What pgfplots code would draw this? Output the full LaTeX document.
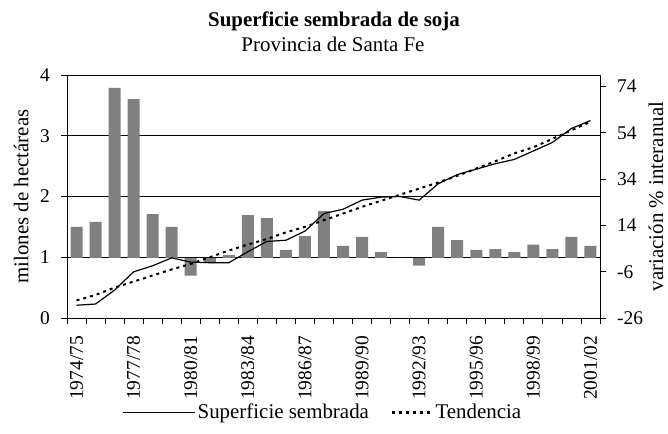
\documentclass[border=0pt]{standalone}
\usepackage{fontspec}
\setmainfont{Liberation Serif}
\usepackage{pgfplots}
\pgfplotsset{compat=1.18}
\definecolor{bargray}{RGB}{128,128,128}

\pgfplotstableread{
i sup tend var
1 0.21 0.29 13.4
2 0.23 0.38 15.5
3 0.46 0.50 73.4
4 0.76 0.60 68.6
5 0.86 0.70 18.9
6 0.99 0.80 13.4
7 0.92 0.89 -7.7
8 0.91 1.00 -1.7
9 0.91 1.11 1.2
10 1.09 1.21 18.5
11 1.26 1.30 17.2
12 1.28 1.41 3.4
13 1.43 1.50 9.4
14 1.72 1.61 20.2
15 1.79 1.72 5.2
16 1.94 1.83 9.1
17 1.99 1.93 2.5
18 2.00 2.03 0.0
19 1.94 2.13 -3.4
20 2.21 2.23 13.4
21 2.36 2.34 7.7
22 2.45 2.46 3.4
23 2.54 2.58 3.8
24 2.61 2.71 2.5
25 2.75 2.81 5.7
26 2.89 2.95 3.8
27 3.12 3.09 9.1
28 3.25 3.23 5.2
}\datatable

\pgfplotsset{
  base/.style={
    scale only axis, width=533bp, height=243bp,
    xmin=0.5, xmax=28.5,
    at={(0bp,0bp)}, anchor=south west,
    axis line style={black, line width=0.8bp},
    tick style={black, line width=0.8bp},
    tick align=outside, major tick length=6bp,
    tick label style={font=\fontsize{19.5}{23}\selectfont},
  }
}

\begin{document}
\fontsize{21}{25}\selectfont
\begin{tikzpicture}
\useasboundingbox (-67bp,-116bp) rectangle (601bp,318bp);

% background axis: left scale, grid, x ticks
\begin{axis}[base,
  ymin=0, ymax=4,
  ytick={0,1,2,3,4}, yticklabels={0,1,2,3,4},
  ytick pos=left, xtick pos=bottom,
  ymajorgrids, grid style={black, line width=0.8bp},
  xtick={0.5,1.5,...,28.5}, xticklabels={},
  extra x ticks={1,4,7,10,13,16,19,22,25,28},
  extra x tick labels={1974/75,1977/78,1980/81,1983/84,1986/87,1989/90,1992/93,1995/96,1998/99,2001/02},
  extra x tick style={major tick length=0pt, grid=none},
  xticklabel style={rotate=90, anchor=east},
  xticklabel shift=11bp,
  yticklabel style={xshift=-4bp},
  ylabel={milones de hectáreas},
  ylabel style={at={(axis description cs:-0.086,0.5)}, anchor=center},
]
\addplot[draw=none] coordinates {(1,1)};
\end{axis}

% bars: right scale
\begin{axis}[base,
  ymin=-26, ymax=79,
  axis x line=none, axis y line*=right,
  ytick={-26,-6,14,34,54,74}, yticklabels={-26,-6,14,34,54,74},
  yticklabel style={xshift=4bp},
  ylabel={variación \% interanual},
  ylabel style={at={(axis description cs:1.105,0.5)}, anchor=center, inner sep=0pt},
  ybar, bar width=12bp,
]
\addplot[fill=bargray, draw=none] table[x=i, y=var] {\datatable};
\end{axis}

% lines: left scale
\begin{axis}[base,
  ymin=0, ymax=4, hide axis,
  legend columns=2,
  legend style={draw=none, fill=none, at={(0.48,-0.39)}, anchor=center,
    /tikz/every even column/.append style={column sep=20bp},
    inner sep=0pt},
]
\addplot[black, line width=1.2bp, legend image code/.code={\draw[black, line width=1.2bp] (-72bp,0bp) -- (0bp,0bp);}] table[x=i, y=sup] {\datatable};
\addlegendentry{Superficie sembrada}
\addplot[black, line width=2bp, dash pattern=on 3bp off 4bp, legend image code/.code={\draw[black, line width=2.6bp, dash pattern=on 3bp off 4bp] (-40bp,0bp) -- (0bp,0bp);}] table[x=i, y=tend] {\datatable};
\addlegendentry{Tendencia}
\end{axis}

\node[font=\bfseries, anchor=base] at (267bp,291bp) {Superficie sembrada de soja};
\node[anchor=base] at (266bp,266bp) {Provincia de Santa Fe};
\end{tikzpicture}
\end{document}
